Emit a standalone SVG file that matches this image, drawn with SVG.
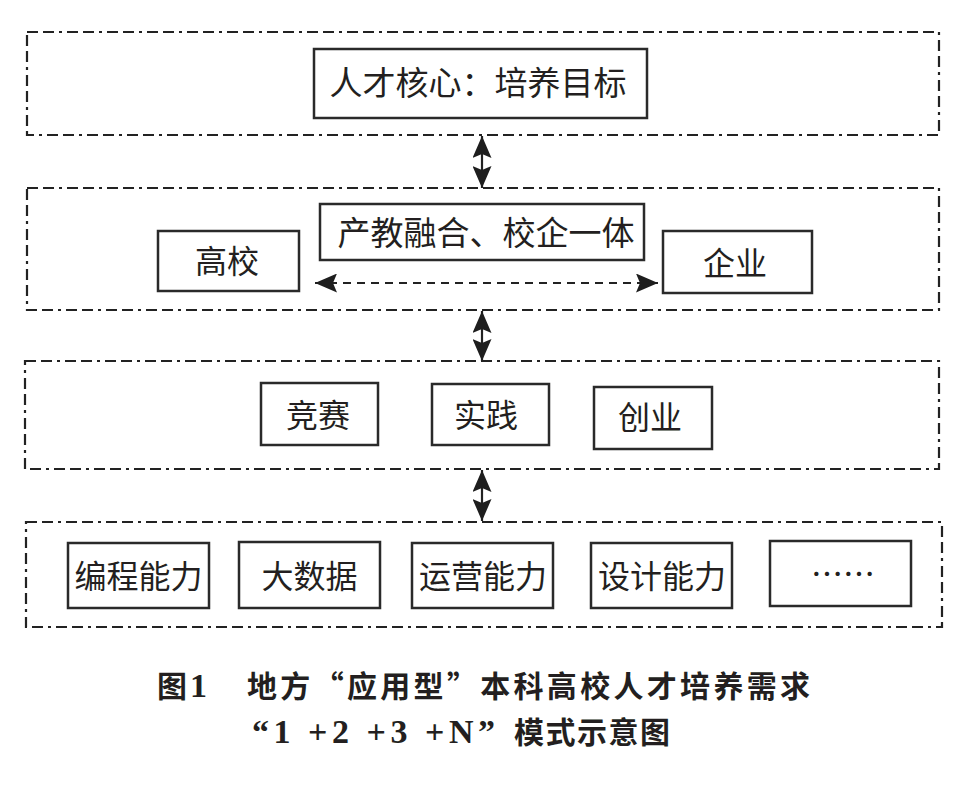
<svg xmlns="http://www.w3.org/2000/svg" width="961" height="788" viewBox="0 0 961 788">
<style>
.bg{fill:#ffffff}
.layer{fill:none;stroke:#222;stroke-width:2.2;stroke-dasharray:11 5 11 5 3 5}
.box{fill:#fff;stroke:#2a2a2a;stroke-width:2.5}
.t{font-family:"Noto Sans CJK SC","Noto Sans",sans-serif;font-size:32px;fill:#231f20;text-anchor:middle}
.t33{font-size:33px}
.cap{font-family:"Noto Sans CJK SC","Noto Sans",sans-serif;font-weight:700;font-size:30px;fill:#231f20}
.num{font-family:"Liberation Serif","Times New Roman",serif;font-weight:700;font-size:34px;fill:#231f20}
.arr{fill:none;stroke:#222;stroke-width:2.2}
.dash{stroke-dasharray:8 6}
</style>
<defs>
<marker id="ah" viewBox="0 0 22 19" refX="22" refY="9.5" markerWidth="22" markerHeight="19" markerUnits="userSpaceOnUse" orient="auto-start-reverse">
<path d="M0,0 L22,9.5 L0,19 L4,9.5 z" fill="#1e1e1e"/>
</marker>
</defs>
<rect class="bg" x="0" y="0" width="961" height="788"/>
<g id="layers">
<rect id="layer1" class="layer" x="27" y="32" width="912" height="103"/>
<rect id="layer2" class="layer" x="27" y="188" width="912" height="122"/>
<rect id="layer3" class="layer" x="25" y="361" width="914" height="108"/>
<rect id="layer4" class="layer" x="26" y="522" width="916" height="105"/>
</g>
<g id="connectors">
<line class="arr" x1="482" y1="136" x2="482" y2="188" marker-start="url(#ah)" marker-end="url(#ah)"/>
<line class="arr" x1="482" y1="311" x2="482" y2="361" marker-start="url(#ah)" marker-end="url(#ah)"/>
<line class="arr" x1="482" y1="470" x2="482" y2="521" marker-start="url(#ah)" marker-end="url(#ah)"/>
<line class="arr dash" x1="315" y1="283" x2="658" y2="283" marker-start="url(#ah)" marker-end="url(#ah)"/>
</g>
<g id="n-goal"><rect class="box" x="314" y="49" width="333" height="69"/><text class="t t33" x="478" y="95">人才核心：培养目标</text></g>
<g id="n-fusion"><rect class="box" x="320" y="204" width="324" height="56"/><text class="t t33" x="486" y="245">产教融合、校企一体</text></g>
<g id="n-school"><rect class="box" x="158" y="231" width="141" height="60"/><text class="t" x="227" y="273">高校</text></g>
<g id="n-enterprise"><rect class="box" x="663" y="231" width="149" height="62"/><text class="t" x="735" y="275">企业</text></g>
<g id="n-contest"><rect class="box" x="261" y="383" width="117" height="62"/><text class="t" x="318" y="427">竞赛</text></g>
<g id="n-practice"><rect class="box" x="432" y="384" width="117" height="61"/><text class="t" x="486" y="427">实践</text></g>
<g id="n-startup"><rect class="box" x="594" y="387" width="118" height="62"/><text class="t" x="650" y="429">创业</text></g>
<g id="n-prog"><rect class="box" x="68" y="543" width="141" height="65"/><text class="t" x="138.5" y="588">编程能力</text></g>
<g id="n-bigdata"><rect class="box" x="239" y="542" width="141" height="66"/><text class="t" x="309.5" y="588">大数据</text></g>
<g id="n-ops"><rect class="box" x="412" y="543" width="141" height="65"/><text class="t" x="483" y="588">运营能力</text></g>
<g id="n-design"><rect class="box" x="591" y="543" width="141" height="65"/><text class="t" x="662" y="588">设计能力</text></g>
<g id="n-more"><rect class="box" x="770" y="541" width="141" height="65"/><text class="t" x="843" y="586">……</text></g>
<g id="caption">
<text class="cap" x="157" y="697">图</text>
<text class="num" x="190" y="697">1</text>
<text class="cap" x="247" y="697" textLength="563" lengthAdjust="spacing">地方“应用型”本科高校人才培养需求</text>
<text class="num" x="252" y="743" textLength="243" lengthAdjust="spacing">“1 +2 +3 +N”</text>
<text class="cap" x="514" y="743" style="letter-spacing:1.5px">模式示意图</text>
</g>
</svg>
